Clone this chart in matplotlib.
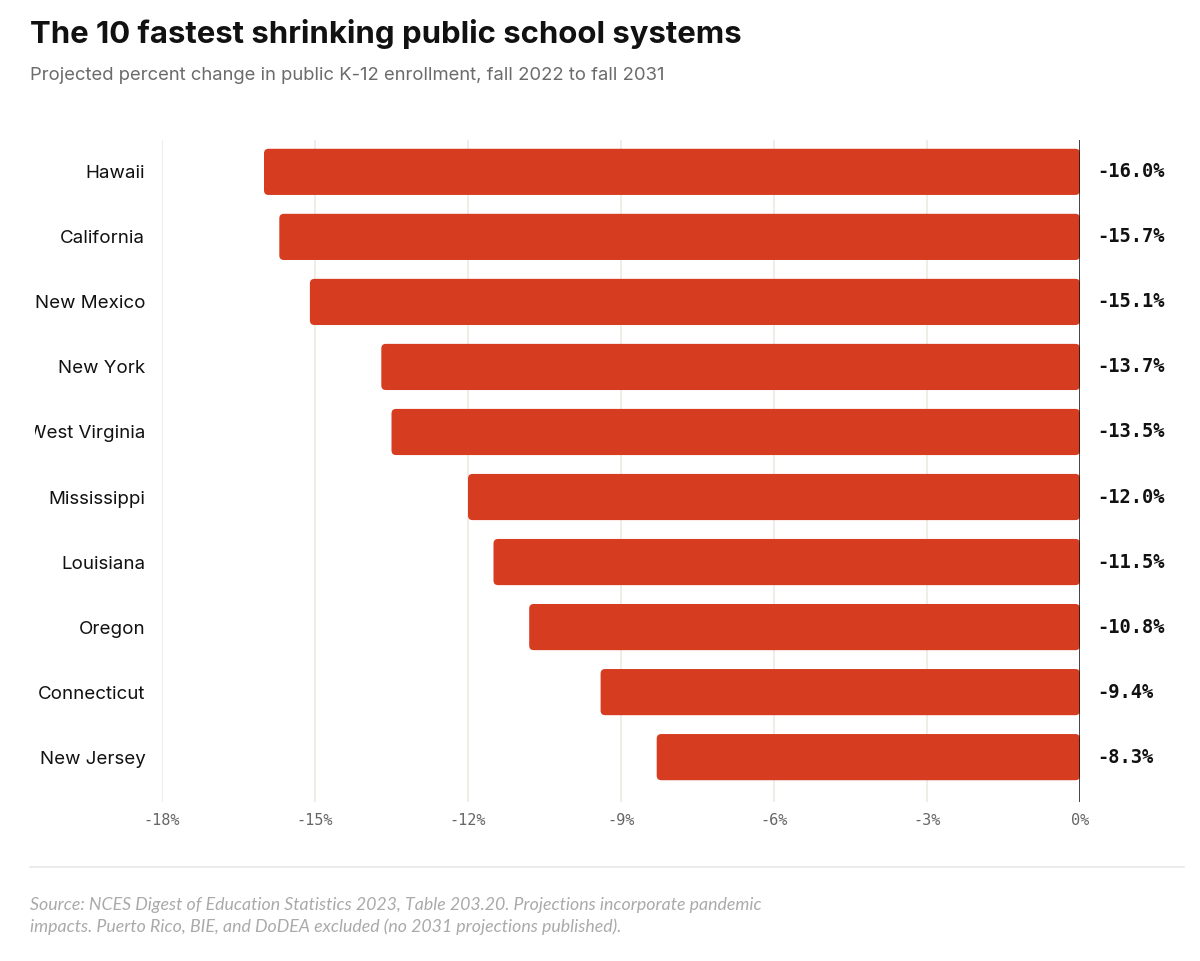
import matplotlib
matplotlib.use("Agg")
import matplotlib.pyplot as plt
from matplotlib.patches import FancyBboxPatch
from matplotlib.transforms import Bbox, TransformedBbox

# data
states = ["Hawaii", "California", "New Mexico", "New York", "West Virginia",
          "Mississippi", "Louisiana", "Oregon", "Connecticut", "New Jersey"]
pct_change = [-16.0, -15.7, -15.1, -13.7, -13.5, -12.0, -11.5, -10.8, -9.4, -8.3]
xticks = [-18, -15, -12, -9, -6, -3, 0]

bar_color = "#d63c1f"
grid_color = "#eeeae3"

W, H = 1200, 961
fig = plt.figure(figsize=(W / 100, H / 100), dpi=100)
ax = fig.add_axes([162 / W, 1 - 802 / H, (1080 - 162) / W, (802 - 140) / H])

bar_h = 0.71
for i, v in enumerate(pct_change):
    p = FancyBboxPatch((v, i - bar_h / 2), -v, bar_h,
                       boxstyle="round,pad=0,rounding_size=0.09",
                       mutation_aspect=51 / 65,
                       facecolor=bar_color, edgecolor="none", zorder=2)
    ax.add_patch(p)
    ax.text(0.33, i, f"{v:.1f}%", ha="left", va="center",
            family="DejaVu Sans Mono", fontweight="bold", fontsize=13.5,
            color="#111111", clip_on=False)

ax.set_xlim(-18, 0)
ax.set_ylim(9.69, -0.49)
ax.set_xticks(xticks)
ax.set_xticklabels([f"{t}%" for t in xticks], family="DejaVu Sans Mono",
                   fontsize=11, color="#666666")
ax.set_yticks(range(len(states)))
ax.set_yticklabels(states, family="Inter", fontsize=13.5, color="#111111")
ax.tick_params(axis="both", length=0)
ax.tick_params(axis="x", pad=8)
ax.tick_params(axis="y", pad=12)
ax.grid(axis="x", color=grid_color, lw=1.2, zorder=0)
ax.set_axisbelow(True)
for s in ax.spines.values():
    s.set_visible(False)
ax.axvline(0, color="#111111", lw=1.8, zorder=3)

# left edge of the original cuts off the longer state names
clip = TransformedBbox(Bbox([[35 / W, 0], [1, 1]]), fig.transFigure)
for lab in ax.get_yticklabels():
    lab.set_clip_box(clip)
    lab.set_clip_on(True)

fig.text(30 / W, 1 - 34 / H, "The 10 fastest shrinking public school systems",
         family="Inter", fontweight="bold", fontsize=22.4, color="#111111",
         va="center")
fig.text(30 / W, 1 - 76 / H,
         "Projected percent change in public K-12 enrollment, fall 2022 to fall 2031",
         family="Inter", fontsize=13.3, color="#6b6b6b", va="center")

fig.add_artist(plt.Line2D([30 / W, 1184 / W], [1 - 867 / H, 1 - 867 / H],
                          color="#e8e8e8", lw=1.2))
fig.text(30 / W, 1 - 916 / H,
         "Source: NCES Digest of Education Statistics 2023, Table 203.20. Projections incorporate pandemic\n"
         "impacts. Puerto Rico, BIE, and DoDEA excluded (no 2031 projections published).",
         family="Lato", style="italic", fontsize=12.8, color="#aaaaaa",
         va="center", linespacing=1.35)

fig.savefig("out.png", dpi=100, facecolor="white")
